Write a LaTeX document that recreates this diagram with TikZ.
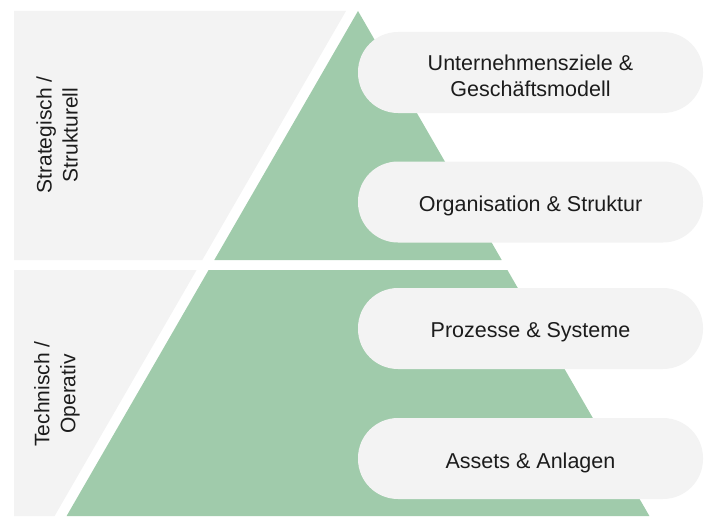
\documentclass[tikz,border=0pt]{standalone}
\usepackage{fontspec}
\setmainfont{Liberation Sans}
\definecolor{pyrgreen}{HTML}{A0CBAB}
\definecolor{panelgrey}{HTML}{F3F3F3}
\definecolor{inktext}{HTML}{1C1C1C}
\begin{document}
\begin{tikzpicture}[x=1pt, y=-1pt,
   pill/.style={fill=panelgrey, rounded corners=40pt, minimum width=345pt,
                minimum height=81pt},
   pilltext/.style={align=center, text=inktext, yshift=-4pt,
                font=\fontsize{21.5}{26}\selectfont},
   sidelabel/.style={rotate=90, align=center, text=inktext,
                font=\fontsize{21}{26}\selectfont}]

\useasboundingbox (0,0) rectangle (708,516);

% grey panels
\fill[panelgrey] (14,11) -- (346,11) -- (202.3,260) -- (14,260) -- cycle;
\fill[panelgrey] (14,270) -- (196.6,270) -- (54.6,516) -- (14,516) -- cycle;

% pyramid
\fill[pyrgreen] (358,11) -- (501.7,260) -- (214.3,260) -- cycle;
\fill[pyrgreen] (208.6,270) -- (507.4,270) -- (649.4,516) -- (66.6,516) -- cycle;

\node[sidelabel] (strat) at (57,135) {Strategisch /\\Strukturell};
\node[sidelabel] (tech) at (57,394) {Technisch /\\Operativ};

\node[pill, label={[pilltext, yshift=1pt]center:Unternehmensziele \&\\Geschäftsmodell}]
   (ziele) at (530.5,72.5) {};
\node[pill, label={[pilltext]center:Organisation \& Struktur}] (orga) at (530.5,202) {};
\node[pill, label={[pilltext]center:Prozesse \& Systeme}] (prozesse) at (530.5,328.5) {};
\node[pill, label={[pilltext]center:Assets \& Anlagen}] (assets) at (530.5,458.5) {};

\end{tikzpicture}
\end{document}
